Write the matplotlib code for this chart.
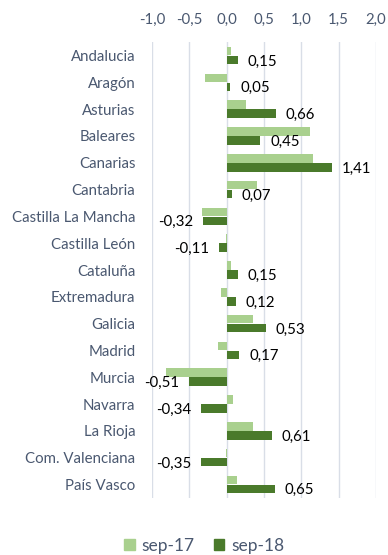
import matplotlib.pyplot as plt
from matplotlib.patches import Patch
from matplotlib.ticker import FuncFormatter

plt.rcParams['font.family'] = ['Lato', 'DejaVu Sans']

regiones = ["Andalucia", "Aragón", "Asturias", "Baleares", "Canarias", "Cantabria",
            "Castilla La Mancha", "Castilla León", "Cataluña", "Extremadura", "Galicia",
            "Madrid", "Murcia", "Navarra", "La Rioja", "Com. Valenciana", "País Vasco"]
sep17 = [0.06, -0.29, 0.26, 1.12, 1.16, 0.40, -0.33, -0.01, 0.06, -0.08, 0.35,
         -0.12, -0.82, 0.09, 0.35, -0.01, 0.14]
sep18 = [0.15, 0.05, 0.66, 0.45, 1.41, 0.07, -0.32, -0.11, 0.15, 0.12, 0.53,
         0.17, -0.51, -0.34, 0.61, -0.35, 0.65]

c17 = '#a9d08e'
c18 = '#4a7a2b'
txt = '#4a5870'

fig = plt.figure(figsize=(3.88, 5.55), dpi=100)
ax = fig.add_axes([0.392, 0.103, 0.577, 0.821])

pos = list(range(len(regiones)))
h = 0.32
ax.barh([p - 0.17 for p in pos], sep17, height=h, color=c17, zorder=2)
ax.barh([p + 0.17 for p in pos], sep18, height=h, color=c18, zorder=2)

for p, v in zip(pos, sep18):
    lab = f"{v:.2f}".replace('.', ',')
    if v >= 0:
        ax.annotate(lab, (v, p + 0.17), xytext=(7, -1), textcoords='offset points',
                    ha='left', va='center', fontsize=10.8, color='black')
    else:
        ax.annotate(lab, (v, p + 0.17), xytext=(-7, -1), textcoords='offset points',
                    ha='right', va='center', fontsize=10.8, color='black')

ax.set_xlim(-1.0, 2.0)
ax.set_ylim(len(regiones) - 0.5, -0.5)
ax.set_xticks([-1.0, -0.5, 0.0, 0.5, 1.0, 1.5, 2.0])
ax.xaxis.set_major_formatter(FuncFormatter(lambda x, _: f"{x:.1f}".replace('.', ',')))
ax.xaxis.tick_top()
ax.set_yticks(pos)
ax.set_yticklabels(regiones)
ax.tick_params(axis='both', length=0, labelsize=10.8, colors=txt)
ax.tick_params(axis='x', pad=11)
ax.tick_params(axis='y', pad=12)
ax.grid(axis='x', color='#d9dee7', linewidth=1, zorder=0)
for s in ax.spines.values():
    s.set_visible(False)

handles = [Patch(color=c17, label='sep-17'), Patch(color=c18, label='sep-18')]
fig.legend(handles=handles, loc='center', bbox_to_anchor=(0.527, 0.017), ncol=2,
           frameon=False, fontsize=12.5, handlelength=0.6, handleheight=0.6,
           columnspacing=1.1, handletextpad=0.4, labelcolor=txt)

fig.savefig('out.png', dpi=100)
